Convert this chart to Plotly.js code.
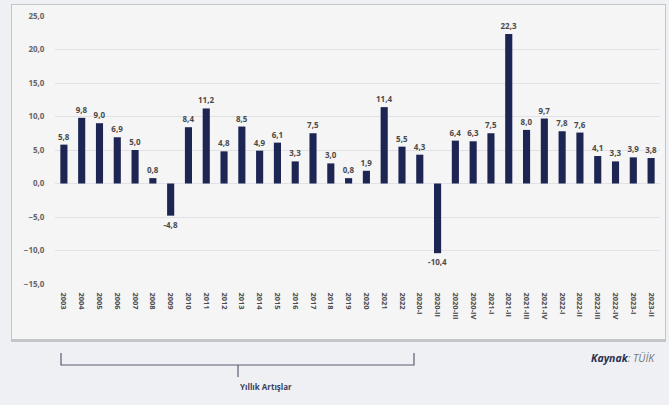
<!DOCTYPE html>
<html><head><meta charset="utf-8">
<script src="https://cdn.plot.ly/plotly-3.0.1.min.js"></script>
<style>html,body{margin:0;padding:0;background:#eef0f4}#c{width:669px;height:405px}</style>
</head><body><div id="c"></div>
<script>
const categories = ["2003","2004","2005","2006","2007","2008","2009","2010","2011","2012","2013","2014","2015","2016","2017","2018","2019","2020","2021","2022",
 "2020-I","2020-II","2020-III","2020-IV","2021-I","2021-II","2021-III","2021-IV","2022-I","2022-II","2022-III","2022-IV","2023-I","2023-II"];
const growth = [5.8,9.8,9.0,6.9,5.0,0.8,-4.8,8.4,11.2,4.8,8.5,4.9,6.1,3.3,7.5,3.0,0.8,1.9,11.4,5.5,
 4.3,-10.4,6.4,6.3,7.5,22.3,8.0,9.7,7.8,7.6,4.1,3.3,3.9,3.8];
const yTicks = [-15,-10,-5,0,5,10,15,20,25];
const bracketLabel = "Yıllık Artışlar";
const sourceLabel = "<b><i>Kaynak</i></b><i><span style='color:#777'>: TÜİK</span></i>";

const L=55,R=660,T=16,B=284,W=669,H=405;
const px=x=>(x-L)/(R-L), py=y=>(B-y)/(B-T);

const trace = {
  type:'bar', x:categories, y:growth,
  marker:{color:'#1d2553'},
  texttemplate:'%{y:.1f}', textposition:'outside', cliponaxis:false, constraintext:'none',
  textfont:{family:'Open Sans, sans-serif', size:8, color:'#4a4a4a', weight:700},
  outsidetextfont:{family:'Open Sans, sans-serif', size:8, color:'#4a4a4a', weight:700},
  hoverinfo:'none'
};
const layout = {
  width:W, height:H, separators:',.',
  margin:{l:L, r:W-R, t:T, b:H-B},
  paper_bgcolor:'#eef0f4', plot_bgcolor:'rgba(0,0,0,0)',
  bargap:0.6, showlegend:false,
  font:{family:'Open Sans, sans-serif'},
  xaxis:{type:'category', range:[-0.5,33.5], tickangle:90, showgrid:false, zeroline:false, showline:false,
    tickfont:{size:7.5, color:'#4a4a4a', weight:700}, ticks:'outside', ticklen:6, tickcolor:'rgba(0,0,0,0)', fixedrange:true},
  yaxis:{range:[-15,25], tickvals:yTicks, tickformat:'.1f', gridcolor:'#e2e2e6', gridwidth:1, zeroline:false, showline:false,
    tickfont:{size:8, color:'#666', weight:700}, ticks:'outside', ticklen:8, tickcolor:'rgba(0,0,0,0)'},
  shapes:[
    {type:'rect', xref:'paper', yref:'paper', x0:px(11), x1:px(666), y0:py(342), y1:py(4), fillcolor:'#c4c5ca', line:{width:0}, layer:'below'},
    {type:'rect', xref:'paper', yref:'paper', x0:px(12), x1:px(665), y0:py(339), y1:py(5), fillcolor:'#f5f5f6', line:{width:0}, layer:'below'},
    {type:'path', xref:'paper', yref:'paper', path:`M ${px(61)} ${py(353)} L ${px(61)} ${py(365)} L ${px(414)} ${py(365)} L ${px(414)} ${py(353)}`, line:{color:'#5a5f70', width:1.2}},
    {type:'line', xref:'paper', yref:'paper', x0:px(238), x1:px(238), y0:py(365), y1:py(377), line:{color:'#5a5f70', width:1.2}}
  ],
  annotations:[
    {xref:'paper', yref:'paper', x:px(238), y:py(394), text:'<b>'+bracketLabel+'</b>', showarrow:false, font:{size:8, color:'#3a4060'}},
    {xref:'paper', yref:'paper', x:px(657), y:py(367), xanchor:'right', text:sourceLabel, showarrow:false, font:{size:10.5, color:'#2a3050'}}
  ]
};
Plotly.newPlot('c',[trace],layout,{displayModeBar:false, staticPlot:true});
</script></body></html>
